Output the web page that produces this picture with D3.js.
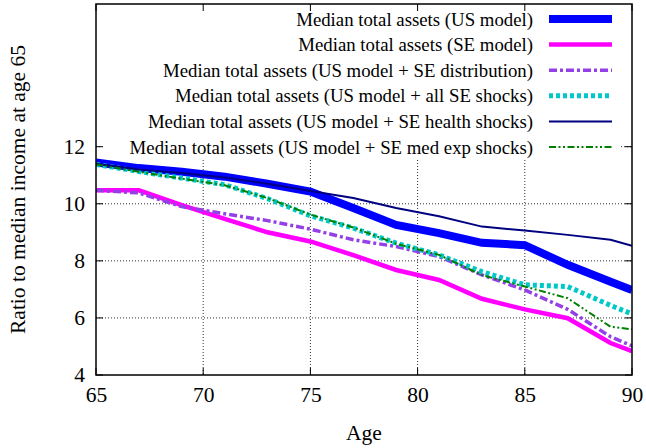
<!DOCTYPE html>
<html><head><meta charset="utf-8">
<script src="https://cdn.jsdelivr.net/npm/d3@7"></script>
<style>html,body{margin:0;padding:0;background:#fff;}svg{display:block;}</style>
</head><body>
<svg id="chart" width="646" height="448"></svg>
<script>
const ages = [65,67,69,71,73,75,77,79,81,83,85,87,89,90];
const usModel     = [11.45,11.25,11.12,10.95,10.70,10.43,9.85,9.26,8.97,8.63,8.55,7.86,7.27,6.98];
const seModel     = [10.47,10.47,9.95,9.47,9.00,8.68,8.20,7.68,7.33,6.67,6.30,5.99,5.12,4.84];
const usSeDist    = [10.47,10.38,9.90,9.65,9.41,9.11,8.74,8.50,8.15,7.51,6.98,6.30,5.34,5.02];
const usAllShocks = [11.38,11.13,10.90,10.67,10.18,9.58,9.15,8.62,8.21,7.62,7.16,7.10,6.44,6.14];
const usHealth    = [11.40,11.20,11.08,10.92,10.70,10.45,10.20,9.85,9.56,9.20,9.06,8.91,8.74,8.53];
const usMedExp    = [11.38,11.12,10.88,10.65,10.20,9.62,9.17,8.60,8.21,7.50,7.10,6.69,5.69,5.60];
const seriesNames = [
  "Median total assets (US model)",
  "Median total assets (SE model)",
  "Median total assets (US model + SE distribution)",
  "Median total assets (US model + all SE shocks)",
  "Median total assets (US model + SE health shocks)",
  "Median total assets (US model + SE med exp shocks)"
];
const xTicks = [65,70,75,80,85,90];
const yTicks = [4,6,8,10,12];

const styles = [
  {color:"#0000ff", width:8, dash:null},
  {color:"#ff00ff", width:4.5, dash:null},
  {color:"#9440e6", width:3.5, dash:"8,3,3,3"},
  {color:"#00c8c8", width:5, dash:"4,3"},
  {color:"#000080", width:2, dash:null},
  {color:"#008000", width:2, dash:"7,2.5,2,2.5,2,2.5"}
];
const seriesValues = [usModel, seModel, usSeDist, usAllShocks, usHealth, usMedExp];

const svg = d3.select("#chart");
const font = "'Liberation Serif','Times New Roman',serif";
const fs = 21.5;
const lfs = 18.8;
const L = 96, R = 632, T = 4, B = 375;
const x = d3.scaleLinear().domain([65,90]).range([L,R]);
const y = d3.scaleLinear().domain([4,17]).range([B,T]);

svg.append("defs").append("clipPath").attr("id","clip")
  .append("rect").attr("x",L).attr("y",T).attr("width",R-L).attr("height",B-T);

// grid
const grid = svg.append("g");
grid.selectAll(".gx").data(xTicks.filter(d=>d>65&&d<90)).enter().append("line")
  .attr("x1",d=>x(d)).attr("x2",d=>x(d)).attr("y1",T).attr("y2",B)
  .attr("stroke","#333").attr("stroke-width",1).attr("stroke-dasharray","1,2");
grid.selectAll(".gy").data(yTicks.filter(d=>d>4)).enter().append("line")
  .attr("x1",L).attr("x2",R).attr("y1",d=>y(d)).attr("y2",d=>y(d))
  .attr("stroke","#333").attr("stroke-width",1).attr("stroke-dasharray","1,2");

// opaque legend box
svg.append("rect").attr("x",L+6).attr("y",T+2).attr("width",620-(L+6)).attr("height",156-T)
  .attr("fill","#fff");

// mirrored ticks
const tl = 7;
const tk = svg.append("g").attr("stroke","#000").attr("stroke-width",1);
xTicks.forEach(d=>{
  tk.append("line").attr("x1",x(d)).attr("x2",x(d)).attr("y1",B).attr("y2",B-tl);
  tk.append("line").attr("x1",x(d)).attr("x2",x(d)).attr("y1",T).attr("y2",T+tl);
});
yTicks.forEach(d=>{
  tk.append("line").attr("x1",L).attr("x2",L+tl).attr("y1",y(d)).attr("y2",y(d));
  tk.append("line").attr("x1",R).attr("x2",R-tl).attr("y1",y(d)).attr("y2",y(d));
});

// axis labels via d3 axes
const xAxis = svg.append("g").attr("transform",`translate(0,${B})`)
  .call(d3.axisBottom(x).tickValues(xTicks).tickSize(0).tickPadding(12));
const yAxis = svg.append("g").attr("transform",`translate(${L},0)`)
  .call(d3.axisLeft(y).tickValues(yTicks).tickSize(0).tickPadding(11));
[xAxis,yAxis].forEach(a=>{
  a.select(".domain").remove();
  a.selectAll("text").attr("font-family",font).attr("font-size",fs).attr("fill","#000");
});

// lines
const line = d3.line().x((d,i)=>x(ages[i])).y(d=>y(d));
const lg = svg.append("g").attr("clip-path","url(#clip)");
seriesValues.forEach((vals,i)=>{
  const s = styles[i];
  const p = lg.append("path").datum(vals).attr("d",line)
    .attr("fill","none").attr("stroke",s.color).attr("stroke-width",s.width)
    .attr("stroke-linejoin","miter");
  if(s.dash) p.attr("stroke-dasharray",s.dash);
});

// legend
const leg = svg.append("g");
seriesNames.forEach((name,i)=>{
  const yy = 19 + i*25.6;
  const s = styles[i];
  leg.append("text").attr("x",533).attr("y",yy).attr("dy","0.35em")
    .attr("text-anchor","end").attr("font-family",font).attr("font-size",lfs).text(name);
  const l = leg.append("line").attr("x1",549).attr("x2",612).attr("y1",yy).attr("y2",yy)
    .attr("stroke",s.color).attr("stroke-width",s.width);
  if(s.dash) l.attr("stroke-dasharray",s.dash);
});

// border
svg.append("rect").attr("x",L).attr("y",T).attr("width",R-L).attr("height",B-T)
  .attr("fill","none").attr("stroke","#000").attr("stroke-width",1.5);

// axis titles
svg.append("text").attr("x",(L+R)/2).attr("y",440).attr("text-anchor","middle")
  .attr("font-family",font).attr("font-size",fs).text("Age");
svg.append("text").attr("transform",`translate(25,${(T+B)/2}) rotate(-90)`)
  .attr("text-anchor","middle").attr("font-family",font).attr("font-size",fs)
  .text("Ratio to median income at age 65");
</script>
</body></html>
